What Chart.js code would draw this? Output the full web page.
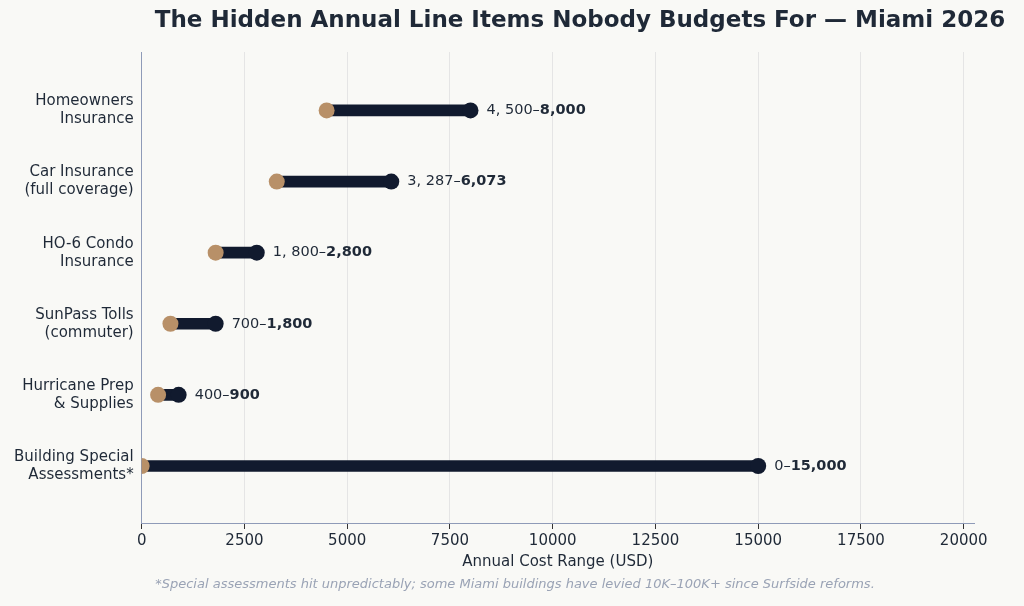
<!DOCTYPE html>
<html><head><meta charset="utf-8">
<script src="https://cdn.jsdelivr.net/npm/chart.js@4/dist/chart.umd.min.js"></script>
<style>html,body{margin:0;background:#f9f9f6;}#w{width:1024px;height:606px;}</style>
</head><body><div id="w"><canvas id="c"></canvas></div>
<script>
const categories = [["Homeowners","Insurance"],["Car Insurance","(full coverage)"],["HO-6 Condo","Insurance"],["SunPass Tolls","(commuter)"],["Hurricane Prep","& Supplies"],["Building Special","Assessments*"]];
const lowValues = [4500, 3287, 1800, 700, 400, 0];
const highValues = [8000, 6073, 2800, 1800, 900, 15000];
const lowText = ["4, 500–","3, 287–","1, 800–","700–","400–","0–"];
const highText = ["8,000","6,073","2,800","1,800","900","15,000"];
const xTicks = [0,2500,5000,7500,10000,12500,15000,17500,20000];
const F = "'DejaVu Sans', sans-serif";

const labelPlugin = {
  id:'lbl',
  afterDatasetsDraw(chart){
    const ctx=chart.ctx, xs=chart.scales.x, ys=chart.scales.y;
    ctx.save(); ctx.textBaseline='middle'; ctx.fillStyle='#1f2937';
    highValues.forEach((v,i)=>{
      const x=xs.getPixelForValue(v)+16, y=ys.getPixelForValue(i);
      ctx.font="14.5px "+F; ctx.fillText(lowText[i],x,y);
      const w=ctx.measureText(lowText[i]).width;
      ctx.font="bold 14.5px "+F; ctx.fillText(highText[i],x+w,y);
    });
    ctx.font="bold 23px "+F; ctx.textAlign='center'; ctx.fillStyle='#1f2937';
    ctx.fillText("The Hidden Annual Line Items Nobody Budgets For — Miami 2026",580,21);
    ctx.font="italic 13px "+F; ctx.fillStyle='#9aa3b5';
    ctx.fillText("*Special assessments hit unpredictably; some Miami buildings have levied 10K–100K+ since Surfside reforms.",515,585);
    ctx.restore();
  }
};

new Chart(document.getElementById('c'),{
  type:'bar',
  data:{labels:categories.map((c,i)=>i),datasets:[
    {type:'bar',data:lowValues.map((v,i)=>({x:[v,highValues[i]],y:i})),backgroundColor:'#111a2e',barThickness:11,borderSkipped:false,order:3},
    {type:'line',showLine:false,data:lowValues.map((v,i)=>({x:v,y:i})),pointRadius:8,pointHoverRadius:8,pointBackgroundColor:'#b89068',pointBorderWidth:0,order:1},
    {type:'line',showLine:false,data:highValues.map((v,i)=>({x:v,y:i})),pointRadius:8,pointHoverRadius:8,pointBackgroundColor:'#111a2e',pointBorderWidth:0,order:2}
  ]},
  options:{
    indexAxis:'y',responsive:true,maintainAspectRatio:false,animation:false,
    layout:{padding:{left:11,right:50,top:52,bottom:31}},
    plugins:{legend:{display:false},tooltip:{enabled:false},title:{display:false}},
    scales:{
      x:{type:'linear',min:0,max:20250,afterBuildTicks(a){a.ticks=xTicks.map(v=>({value:v}));},
        grid:{color:'#e5e5e5',drawTicks:true,tickLength:6,tickColor:'#333'},border:{color:'#8f9bb8'},
        ticks:{color:'#1f2937',font:{family:F,size:15},callback:v=>String(v)},
        title:{display:true,text:'Annual Cost Range (USD)',color:'#1f2937',font:{family:F,size:15},padding:{top:0}}},
      y:{type:'linear',reverse:true,min:-0.27,max:5.25,
        afterBuildTicks(a){a.ticks=categories.map((c,i)=>({value:i}));},
        grid:{display:false,drawTicks:true,tickLength:5,tickColor:'#333'},border:{color:'#8f9bb8'},
        ticks:{color:'#1f2937',font:{family:F,size:15},callback:v=>categories[v]}}
    }
  },
  plugins:[labelPlugin]
});
</script></body></html>
